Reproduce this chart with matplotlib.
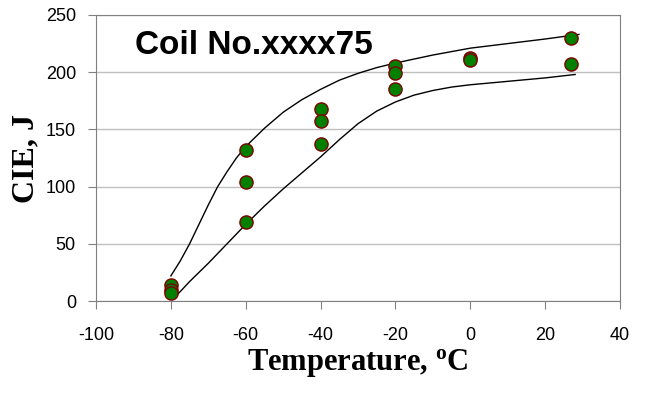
import numpy as np
import matplotlib
matplotlib.use("Agg")
import matplotlib.pyplot as plt

plt.rcParams['mathtext.fontset'] = 'custom'
plt.rcParams['mathtext.rm'] = 'Liberation Serif'
plt.rcParams['mathtext.bf'] = 'Liberation Serif:bold'
plt.rcParams['axes.unicode_minus'] = False

# measured impact energy per test temperature
temp = [-80, -80, -80, -60, -60, -60, -40, -40, -40, -20, -20, -20, 0, 0, 27, 27]
cie = [14, 10, 7, 132, 104, 69, 168, 157, 137, 205, 199, 185, 212, 211, 230, 207]

# upper and lower scatter band lines
upper_t = [-80, -77.5, -75, -72.5, -70, -67.5, -65, -62.5, -60, -55, -50, -45, -40, -35, -30,
           -25, -20, -10, 0, 10, 20, 29]
upper_v = [22, 35, 50, 67, 84, 100, 113, 125, 135, 151, 165, 176, 185, 193, 199,
           204, 208, 215, 221, 225, 229, 233]
lower_t = [-79, -77, -75, -70, -65, -60, -55, -50, -45, -40, -35, -30, -25, -20, -15, -10,
           -5, 0, 10, 20, 28]
lower_v = [3, 10, 17, 33, 50, 67, 83, 98, 112, 126, 141, 155, 166, 174, 180, 184,
           187, 189, 192, 195, 198]

fig = plt.figure(figsize=(6.47, 3.94), dpi=100)
ax = fig.add_axes([0.1484, 0.236, 0.81, 0.726])

ax.set_xlim(-100, 40)
ax.set_ylim(0, 250)
ax.set_xticks(np.arange(-100, 41, 20))
ax.set_yticks(np.arange(0, 251, 50))
ax.yaxis.grid(True, color='#c0c0c0', linewidth=1)
ax.set_axisbelow(True)

for s in ax.spines.values():
    s.set_color('#808080')
ax.tick_params(colors='#808080', direction='out', length=5.5, labelsize=13,
               labelcolor='black')
ax.tick_params(axis='x', pad=13)
ax.tick_params(axis='y', pad=9)
for lab in ax.get_xticklabels() + ax.get_yticklabels():
    lab.set_family('Liberation Sans')

ax.plot(upper_t, upper_v, color='black', linewidth=1)
ax.plot(lower_t, lower_v, color='black', linewidth=1)
ax.plot(temp, cie, linestyle='none', marker='o', markersize=9.5,
        markerfacecolor='#008000', markeredgecolor='#800000', markeredgewidth=1)

ax.text(0.0744, 0.8636, 'Coil No.xxxx75', transform=ax.transAxes, fontsize=24,
        fontweight='bold', family='Liberation Sans', va='baseline', ha='left')

fig.text(0.5533, 0.061, r'Temperature, $\mathbf{^o}$C', fontsize=22, fontweight='bold',
         family='Liberation Serif', ha='center', va='baseline')
fig.text(0.040, 0.598, 'CIE, J', fontsize=23, fontweight='bold', family='Liberation Serif',
         rotation=90, ha='center', va='center')

fig.savefig('out.png', dpi=100)
